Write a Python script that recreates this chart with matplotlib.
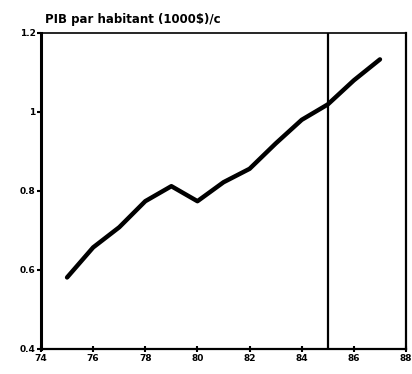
import matplotlib.pyplot as plt
import numpy as np

years = [75, 76, 77, 78, 79, 80, 81, 82, 83, 84, 85, 86, 87]
pib = [0.581, 0.657, 0.708, 0.774, 0.812, 0.774, 0.822, 0.856, 0.920, 0.980, 1.019, 1.080, 1.133]

xticks = [74, 76, 78, 80, 82, 84, 86, 88]
yticks = [0.4, 0.6, 0.8, 1.0, 1.2]
ylabels = ["0.4", "0.6", "0.8", "1", "1.2"]

fig = plt.figure(figsize=(4.12, 3.74), dpi=100)
ax = fig.add_axes([0.0995, 0.067, 0.886, 0.845])

ax.plot(years, pib, color='black', linewidth=3.2, solid_capstyle='round')
ax.axvline(85, color='black', linewidth=1.6)

ax.set_xlim(74, 88)
ax.set_ylim(0.4, 1.2)
ax.set_xticks(xticks)
ax.set_xticklabels([str(x) for x in xticks], fontweight='bold', fontsize=6.5)
ax.set_yticks(yticks)
ax.set_yticklabels(ylabels, fontweight='bold', fontsize=6.5)
ax.tick_params(axis='x', direction='inout', length=5, width=1.5, pad=1)
ax.tick_params(axis='y', direction='out', length=3, width=1.5, pad=1)

ax.spines['left'].set_linewidth(2.2)
ax.spines['bottom'].set_linewidth(1.6)
ax.spines['right'].set_linewidth(1.6)
ax.spines['top'].set_linewidth(1.2)

fig.text(0.11, 0.93, "PIB par habitant (1000$)/c", fontsize=8.5, fontweight='bold',
         ha='left', va='bottom')

fig.savefig("out.png", dpi=100)
